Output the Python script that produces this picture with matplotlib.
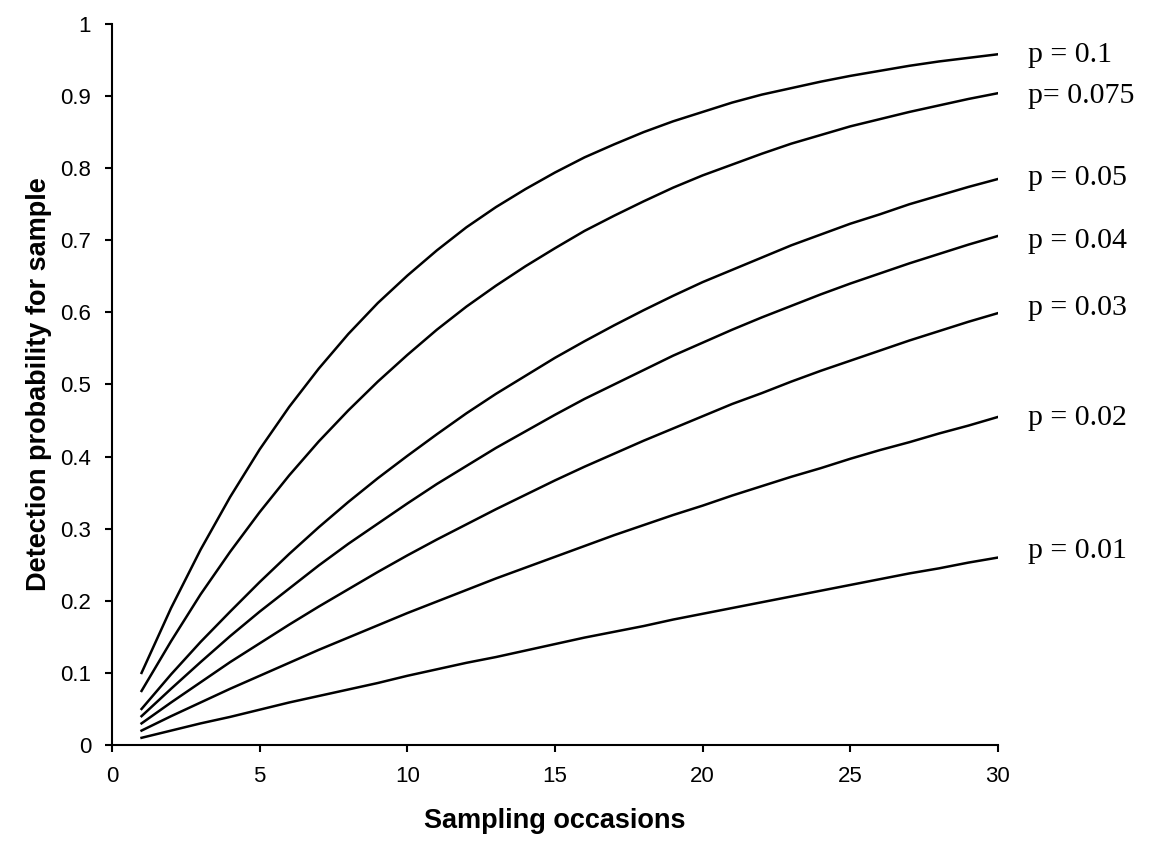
import numpy as np
import matplotlib.pyplot as plt
from matplotlib.ticker import FuncFormatter

plt.rcParams['font.family'] = ['Liberation Sans', 'DejaVu Sans']

occasions = list(range(1, 31))

p_labels = ['p = 0.1', 'p= 0.075', 'p = 0.05', 'p = 0.04',
            'p = 0.03', 'p = 0.02', 'p = 0.01']

det_010 = [0.100, 0.190, 0.271, 0.344, 0.410, 0.469, 0.522, 0.570, 0.613, 0.651,
           0.686, 0.718, 0.746, 0.771, 0.794, 0.815, 0.833, 0.850, 0.865, 0.878,
           0.891, 0.902, 0.911, 0.920, 0.928, 0.935, 0.942, 0.948, 0.953, 0.958]
det_0075 = [0.075, 0.144, 0.209, 0.268, 0.323, 0.374, 0.421, 0.464, 0.504, 0.541,
            0.576, 0.608, 0.637, 0.664, 0.689, 0.713, 0.734, 0.754, 0.773, 0.790,
            0.805, 0.820, 0.834, 0.846, 0.858, 0.868, 0.878, 0.887, 0.896, 0.904]
det_005 = [0.050, 0.098, 0.143, 0.185, 0.226, 0.265, 0.302, 0.337, 0.370, 0.401,
           0.431, 0.460, 0.487, 0.512, 0.537, 0.560, 0.582, 0.603, 0.623, 0.642,
           0.659, 0.676, 0.693, 0.708, 0.723, 0.736, 0.750, 0.762, 0.774, 0.785]
det_004 = [0.040, 0.078, 0.115, 0.151, 0.185, 0.217, 0.249, 0.279, 0.307, 0.335,
           0.362, 0.387, 0.412, 0.435, 0.458, 0.480, 0.500, 0.520, 0.540, 0.558,
           0.576, 0.593, 0.609, 0.625, 0.640, 0.654, 0.668, 0.681, 0.694, 0.706]
det_003 = [0.030, 0.059, 0.087, 0.115, 0.141, 0.167, 0.192, 0.216, 0.240, 0.263,
           0.285, 0.306, 0.327, 0.347, 0.367, 0.386, 0.404, 0.422, 0.439, 0.456,
           0.473, 0.488, 0.504, 0.519, 0.533, 0.547, 0.561, 0.574, 0.587, 0.599]
det_002 = [0.020, 0.040, 0.059, 0.078, 0.096, 0.114, 0.132, 0.149, 0.166, 0.183,
           0.199, 0.215, 0.231, 0.246, 0.261, 0.276, 0.291, 0.305, 0.319, 0.332,
           0.346, 0.359, 0.372, 0.384, 0.397, 0.409, 0.420, 0.432, 0.443, 0.455]
det_001 = [0.010, 0.020, 0.030, 0.039, 0.049, 0.059, 0.068, 0.077, 0.086, 0.096,
           0.105, 0.114, 0.122, 0.131, 0.140, 0.149, 0.157, 0.165, 0.174, 0.182,
           0.190, 0.198, 0.206, 0.214, 0.222, 0.230, 0.238, 0.245, 0.253, 0.260]

series = [det_010, det_0075, det_005, det_004, det_003, det_002, det_001]

# where the right-hand labels sit (data coords)
label_x = 31.0
label_y = [0.957, 0.900, 0.787, 0.699, 0.606, 0.454, 0.269]

fig = plt.figure(figsize=(11.5, 8.5), dpi=100)
ax = fig.add_axes([0.0974, 0.1235, 0.7704, 0.8483])

for vals, lab, ly in zip(series, p_labels, label_y):
    ax.plot(occasions, vals, '-', color='black', lw=1.8)
    ax.text(label_x, ly, lab, family=['Liberation Serif', 'DejaVu Serif'],
            fontsize=21.5, va='center', ha='left', clip_on=False)

ax.set_xlim(0, 30)
ax.set_ylim(0, 1)
ax.set_xticks(np.arange(0, 31, 5))
ax.set_yticks(np.arange(0, 1.01, 0.1))
ax.yaxis.set_major_formatter(FuncFormatter(lambda v, pos: '%g' % round(v, 1)))

for s in ['top', 'right']:
    ax.spines[s].set_visible(False)
for s in ['left', 'bottom']:
    ax.spines[s].set_linewidth(1.5)

ax.tick_params(direction='out', length=5, width=1.5, labelsize=16)
ax.tick_params(axis='x', pad=10)
ax.tick_params(axis='y', pad=10)

ax.set_xlabel('Sampling occasions', fontsize=19.5, fontweight='bold', labelpad=15)
ax.set_ylabel('Detection probability for sample', fontsize=19.5,
              fontweight='bold', labelpad=6)

plt.savefig('out.png', dpi=100)
